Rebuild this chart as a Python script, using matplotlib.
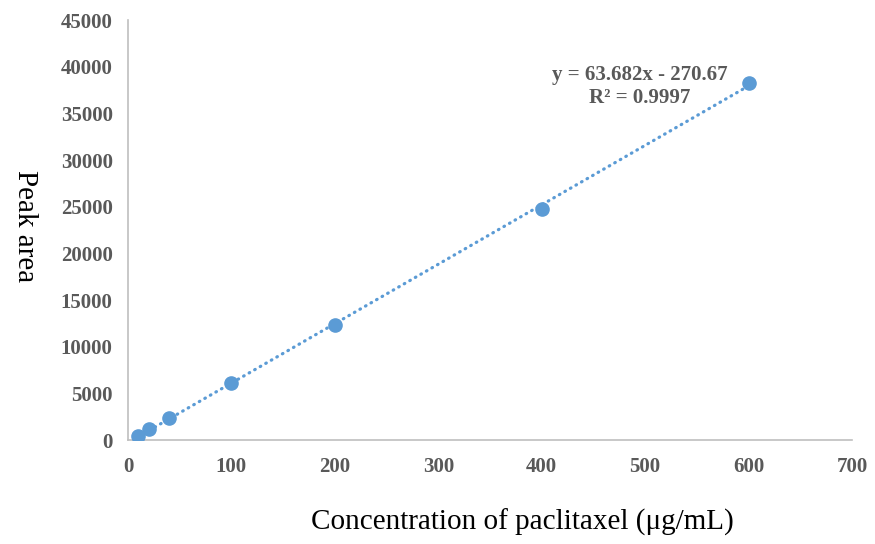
import matplotlib
matplotlib.use("Agg")
import matplotlib.pyplot as plt
import numpy as np

conc = [10, 20, 40, 100, 200, 400, 600]
peak_area = [450, 1200, 2350, 6100, 12350, 24800, 38300]
slope = 63.682
intercept = -270.67
r2 = 0.9997
xticks = [0, 100, 200, 300, 400, 500, 600, 700]
yticks = [0, 5000, 10000, 15000, 20000, 25000, 30000, 35000, 40000, 45000]

blue = "#5b9bd5"
tick_color = "#595959"
serif = ["Liberation Serif", "DejaVu Serif"]

fig = plt.figure(figsize=(8.75, 5.44), dpi=100)
ax = fig.add_axes([128/875, 1-440/544, (852-128)/875, (440-20)/544])

xs = np.array([conc[0], conc[-1]])
ax.plot(xs, slope*xs + intercept, linestyle=(0, (0.2, 1.8)), dash_capstyle="round",
        color=blue, linewidth=2.3, zorder=2)
ax.plot(conc, peak_area, 'o', color=blue, markersize=9.5, zorder=3)

ax.set_xlim(0, 700)
ax.set_ylim(0, 45000)
ax.set_xticks(xticks)
ax.set_yticks(yticks)
ax.set_xticklabels([str(v) for v in xticks], family=serif, fontweight="bold", fontsize=15, color=tick_color)
ax.set_yticklabels([str(v) for v in yticks], family=serif, fontweight="bold", fontsize=15, color=tick_color)
ax.tick_params(axis="both", length=0)
ax.tick_params(axis="x", pad=12)
ax.tick_params(axis="y", pad=11)

for s in ["top", "right"]:
    ax.spines[s].set_visible(False)
for s in ["left", "bottom"]:
    ax.spines[s].set_color("#bfbfbf")
    ax.spines[s].set_linewidth(1.2)

ax.text(495, 39100, f"y = {slope}x - {abs(intercept)}", family=serif, fontweight="bold",
        fontsize=15, color=tick_color, ha="center", va="center")
ax.text(495, 36650, f"R² = {r2}", family=serif, fontweight="bold",
        fontsize=15, color=tick_color, ha="center", va="center")

fig.text(522/875, 1-522/544, "Concentration of paclitaxel (μg/mL)", family=serif,
         fontsize=21, color="black", ha="center", va="center")
fig.text(25/875, 1-226/544, "Peak area", family=serif, fontsize=21, color="black",
         ha="center", va="center", rotation=270)

fig.savefig("out.png", dpi=100)
